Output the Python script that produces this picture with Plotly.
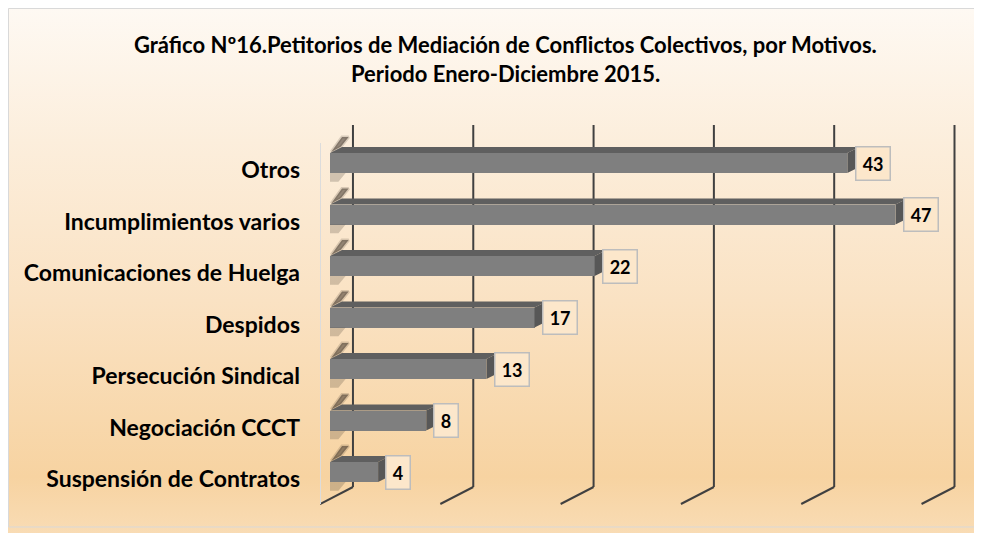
import plotly.graph_objects as go

# ---------------- data ----------------
categories = ["Suspensión de Contratos", "Negociación CCCT", "Persecución Sindical",
              "Despidos", "Comunicaciones de Huelga", "Incumplimientos varios", "Otros"]
values = [4, 8, 13, 17, 22, 47, 43]
tick_values = [0, 10, 20, 30, 40, 50]
title_line1 = "Gráfico Nº16.Petitorios de Mediación de Conflictos Colectivos, por Motivos."
title_line2 = "Periodo Enero-Diciembre 2015."

# ---------------- geometry / style ----------------
W, H = 982, 533
OFF = 8  # page body margin compensation
FONT = "Lato"
px_left, px_right, px_top, px_bottom = 320 - OFF, 961.6 - OFF, 121.8 - OFF, 505.5 - OFF
x_range = [-0.83, 52.5]
y_range = [-0.65, 6.8]

back_dx = 1.91          # back wall offset (x units)
floor_front_y = -0.621
floor_back_y = -0.291
wall_top_y = 6.738
half = 0.195            # bar half thickness (y units)
depth_dx, depth_dy = 1.0, 0.117

idx = list(range(len(categories)))

fig = go.Figure()

# background gradient (full-figure subplot)
fig.add_trace(go.Scatter(
    x=[0, 1, 1, 0, 0], y=[0, 0, 1, 1, 0], mode="lines", fill="toself",
    line=dict(width=0), hoverinfo="skip", showlegend=False,
    fillgradient=dict(type="vertical", start=0, stop=1,
                      colorscale=[[0, "#F9DDB7"], [0.12, "#F7D3A1"],
                                  [0.45, "#FAE2C3"], [0.75, "#FCEEDC"], [1, "#FEF9F3"]]),
    xaxis="x", yaxis="y"))

# wall shadows of the bars (soft diagonal smudges)
sh_x, sh_y, sl_x, sl_y = [], [], [], []
for v, i in zip(values, idx):
    sh_x += [0.1, 0.9, 1.55, 1.0, 0.1, None]
    sh_y += [i + half + 0.02, i + half + 0.12, i + half + 0.31, i + half + 0.31, i + half + 0.02, None]
    sl_x += [0.0, 1.3, 0.7, 0.0, 0.0, None]
    sl_y += [i - half, i - half, i - half - 0.17, i - half - 0.17, i - half, None]
fig.add_trace(go.Scatter(x=sh_x, y=sh_y, mode="lines", fill="toself",
                         fillcolor="rgba(60,50,40,0.55)",
                         line=dict(width=3, color="rgba(60,50,40,0.18)"),
                         xaxis="x2", yaxis="y2", showlegend=False, hoverinfo="skip"))
fig.add_trace(go.Scatter(x=sl_x, y=sl_y, mode="lines", fill="toself",
                         fillcolor="rgba(60,50,40,0.22)", line=dict(width=0),
                         xaxis="x2", yaxis="y2", showlegend=False, hoverinfo="skip"))

# bars (front face)
fig.add_trace(go.Bar(
    x=values, y=idx, orientation="h", width=2 * half,
    marker=dict(color="#7F7F7F", line=dict(width=0)),
    xaxis="x2", yaxis="y2", showlegend=False, hoverinfo="skip"))

# 3D top and side faces
top_x, top_y, side_x, side_y = [], [], [], []
for v, i in zip(values, idx):
    top_x += [0, v, v + depth_dx, depth_dx, 0, None]
    top_y += [i + half, i + half, i + half + depth_dy, i + half + depth_dy, i + half, None]
    side_x += [v, v, v + depth_dx, v + depth_dx, v, None]
    side_y += [i - half, i + half, i + half + depth_dy, i - half + depth_dy, i - half, None]
fig.add_trace(go.Scatter(x=top_x, y=top_y, mode="lines", fill="toself",
                         fillcolor="#5F5F5F", line=dict(width=0),
                         xaxis="x2", yaxis="y2", showlegend=False, hoverinfo="skip"))
fig.add_trace(go.Scatter(x=side_x, y=side_y, mode="lines", fill="toself",
                         fillcolor="#575757", line=dict(width=0),
                         xaxis="x2", yaxis="y2", showlegend=False, hoverinfo="skip"))

shapes = []
# gridlines on back wall + floor
for t in tick_values:
    shapes.append(dict(type="line", xref="x2", yref="y2", layer="below",
                       x0=t + back_dx, x1=t + back_dx, y0=floor_back_y, y1=wall_top_y,
                       line=dict(color="#404040", width=2)))
    shapes.append(dict(type="line", xref="x2", yref="y2", layer="below",
                       x0=t + back_dx, x1=t + x_range[0], y0=floor_back_y, y1=floor_front_y,
                       line=dict(color="#404040", width=2)))
# left wall edge
shapes.append(dict(type="line", xref="x2", yref="y2", layer="below",
                   x0=x_range[0], x1=x_range[0], y0=floor_front_y, y1=6.39,
                   line=dict(color="#DCDCDC", width=2)))
# chart border
shapes.append(dict(type="rect", xref="paper", yref="paper", layer="above",
                   x0=0.5 / W, x1=(978 - OFF) / W, y0=1 - (527 - OFF) / H, y1=1 - 0.5 / H,
                   line=dict(color="#D9D9D9", width=1), fillcolor="rgba(0,0,0,0)"))

annotations = []
for v, i in zip(values, idx):
    annotations.append(dict(
        x=v + 0.6, y=i, xref="x2", yref="y2", xanchor="left", yanchor="middle",
        text="&#8202;" + str(v) + "&#8202;", showarrow=False,
        font=dict(family=FONT, size=18, color="black", weight="bold"),
        bgcolor="#FCE7CB", bordercolor="#BDBDBD", borderwidth=1.5, borderpad=5))
annotations.append(dict(x=(505 - OFF) / W, y=1 - (45 - OFF) / H, xref="paper", yref="paper",
                        xanchor="center", yanchor="middle", showarrow=False,
                        text=title_line1,
                        font=dict(family=FONT, size=22, color="black", weight="bold")))
annotations.append(dict(x=(505 - OFF) / W, y=1 - (73 - OFF) / H, xref="paper", yref="paper",
                        xanchor="center", yanchor="middle", showarrow=False,
                        text=title_line2,
                        font=dict(family=FONT, size=22, color="black", weight="bold")))

fig.update_layout(
    width=W, height=H,
    margin=dict(l=0, r=0, t=0, b=0),
    paper_bgcolor="white", plot_bgcolor="rgba(0,0,0,0)",
    showlegend=False, bargap=0,
    shapes=shapes, annotations=annotations,
    xaxis=dict(domain=[0, 1], range=[0, 1], visible=False, fixedrange=True),
    yaxis=dict(domain=[0, 1], range=[0, 1], visible=False, fixedrange=True),
    xaxis2=dict(domain=[px_left / W, px_right / W], range=x_range, anchor="y2",
                showgrid=False, zeroline=False, showticklabels=False, showline=False),
    yaxis2=dict(domain=[1 - px_bottom / H, 1 - px_top / H], range=y_range, anchor="x2",
                tickvals=idx, ticktext=categories, showgrid=False, zeroline=False,
                showline=False, ticks="", ticklabelshift=7, ticklabelstandoff=19,
                tickfont=dict(family=FONT, size=23, color="black", weight="bold")),
)

fig.write_html("out.html")
